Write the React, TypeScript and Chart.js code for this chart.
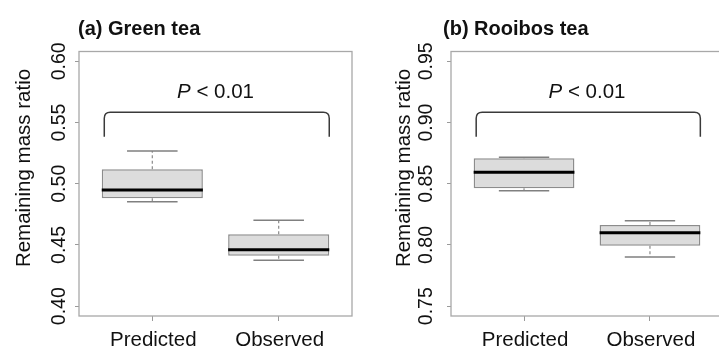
import React, { useEffect, useRef } from "react";
import { Chart, registerables } from "chart.js";

Chart.register(...registerables);

// ---------- data ----------
const categories = ["Predicted", "Observed"];
const xPositions = [1, 2];
const yAxisTitle = "Remaining mass ratio";
const pItalic = "P";
const pRest = " < 0.01";

// (a) Green tea
const greenTitle = "(a) Green tea";
const greenLow = [0.4853, 0.4375];
const greenQ1 = [0.4881, 0.4412];
const greenMedian = [0.4949, 0.4461];
const greenQ3 = [0.5118, 0.4587];
const greenHigh = [0.5267, 0.4701];
const greenTicks = [0.4, 0.45, 0.5, 0.55, 0.6];
const greenBracket = [0.5384, 0.5583]; // [leg end, top bar]
const greenPText = 0.5703;

// (b) Rooibos tea
const rooibosTitle = "(b) Rooibos tea";
const rooibosLow = [0.8443, 0.7902];
const rooibosQ1 = [0.8463, 0.7994];
const rooibosMedian = [0.8593, 0.81];
const rooibosQ3 = [0.8708, 0.8163];
const rooibosHigh = [0.8716, 0.8198];
const rooibosTicks = [0.75, 0.8, 0.85, 0.9, 0.95];
const rooibosBracket = [0.8884, 0.9083];
const rooibosPText = 0.9203;

const bracketX = [0.62, 2.4];

const FONT = "'Liberation Sans', Arial, Helvetica, sans-serif";

type PanelProps = {
  title: string;
  low: number[];
  q1: number[];
  median: number[];
  q3: number[];
  high: number[];
  ticks: number[];
  bracket: number[];
  pText: number;
  // layout only
  canvasWidth: number;
  axisWidth: number;
  titleX: number;
  yTitleX: number;
  tickLabelX: number;
  left: number;
};

function BoxPanel(props: PanelProps) {
  const ref = useRef<HTMLCanvasElement | null>(null);

  useEffect(() => {
    const canvas = ref.current;
    if (!canvas) return;
    const { low, q1, median, q3, high, ticks, bracket, pText, title } = props;
    const tSpan = ticks[ticks.length - 1] - ticks[0];
    const yMin = ticks[0] - 0.04 * tSpan;
    const yMax = ticks[ticks.length - 1] + 0.04 * tSpan;
    const xSpan = xPositions[xPositions.length - 1] - xPositions[0] + 1;
    const xMin = xPositions[0] - 0.5 - 0.04 * xSpan;
    const xMax = xPositions[xPositions.length - 1] + 0.5 + 0.04 * xSpan;

    const extras = {
      id: "boxExtras",
      afterDatasetsDraw(chart: any) {
        const { ctx, chartArea: a } = chart;
        const xs = chart.scales.x;
        const ys = chart.scales.y;
        ctx.save();
        // whiskers, caps, medians
        xPositions.forEach((xv, i) => {
          const cx = xs.getPixelForValue(xv);
          const halfBox = xs.getPixelForValue(xv + 0.4) - cx;
          const halfCap = xs.getPixelForValue(xv + 0.2) - cx;
          ctx.strokeStyle = "#8a8a8a";
          ctx.lineWidth = 1.2;
          ctx.setLineDash([3, 2.5]);
          ctx.beginPath();
          ctx.moveTo(cx, ys.getPixelForValue(q3[i]));
          ctx.lineTo(cx, ys.getPixelForValue(high[i]));
          ctx.moveTo(cx, ys.getPixelForValue(q1[i]));
          ctx.lineTo(cx, ys.getPixelForValue(low[i]));
          ctx.stroke();
          ctx.setLineDash([]);
          ctx.lineWidth = 1.5;
          ctx.strokeStyle = "#808080";
          ctx.beginPath();
          ctx.moveTo(cx - halfCap, ys.getPixelForValue(high[i]));
          ctx.lineTo(cx + halfCap, ys.getPixelForValue(high[i]));
          ctx.moveTo(cx - halfCap, ys.getPixelForValue(low[i]));
          ctx.lineTo(cx + halfCap, ys.getPixelForValue(low[i]));
          ctx.stroke();
          ctx.strokeStyle = "#000000";
          ctx.lineWidth = 3;
          ctx.beginPath();
          ctx.moveTo(cx - halfBox, ys.getPixelForValue(median[i]));
          ctx.lineTo(cx + halfBox, ys.getPixelForValue(median[i]));
          ctx.stroke();
        });
        // bracket
        const bx0 = xs.getPixelForValue(bracketX[0]);
        const bx1 = xs.getPixelForValue(bracketX[1]);
        const byEnd = ys.getPixelForValue(bracket[0]);
        const byTop = ys.getPixelForValue(bracket[1]);
        const r = 6;
        ctx.strokeStyle = "#3a3a3a";
        ctx.lineWidth = 1.5;
        ctx.beginPath();
        ctx.moveTo(bx0, byEnd);
        ctx.lineTo(bx0, byTop + r);
        ctx.quadraticCurveTo(bx0, byTop, bx0 + r, byTop);
        ctx.lineTo(bx1 - r, byTop);
        ctx.quadraticCurveTo(bx1, byTop, bx1, byTop + r);
        ctx.lineTo(bx1, byEnd);
        ctx.stroke();
        // frame
        ctx.strokeStyle = "#a8a8a8";
        ctx.lineWidth = 1.3;
        ctx.strokeRect(a.left, a.top, a.right - a.left, a.bottom - a.top);
        ctx.restore();
      },
      afterDraw(chart: any) {
        const { ctx, chartArea: a } = chart;
        const xs = chart.scales.x;
        const ys = chart.scales.y;
        ctx.save();
        ctx.fillStyle = "#111111";
        // panel title
        ctx.font = `bold 20px ${FONT}`;
        ctx.textAlign = "left";
        ctx.textBaseline = "alphabetic";
        ctx.fillText(title, props.titleX, 35);
        // P < 0.01
        const pcx = xs.getPixelForValue((xPositions[0] + xPositions[1]) / 2);
        const py = ys.getPixelForValue(pText);
        ctx.font = `italic 20.5px ${FONT}`;
        const w1 = ctx.measureText(pItalic).width;
        ctx.font = `20.5px ${FONT}`;
        const w2 = ctx.measureText(pRest).width;
        const start = pcx - (w1 + w2) / 2;
        ctx.font = `italic 20.5px ${FONT}`;
        ctx.fillText(pItalic, start, py);
        ctx.font = `20.5px ${FONT}`;
        ctx.fillText(pRest, start + w1, py);
        // x tick labels
        ctx.textAlign = "center";
        ctx.font = `20.5px ${FONT}`;
        xs.ticks.forEach((t: any, i: number) => {
          ctx.fillText(categories[i], xs.getPixelForValue(t.value) + 1, 346);
        });
        // y tick labels (rotated, parallel to axis)
        ctx.font = `19.5px ${FONT}`;
        ys.ticks.forEach((t: any) => {
          ctx.save();
          ctx.translate(props.tickLabelX, ys.getPixelForValue(t.value));
          ctx.rotate(-Math.PI / 2);
          ctx.textAlign = "center";
          ctx.fillText(Number(t.value).toFixed(2), 0, 0);
          ctx.restore();
        });
        // y axis title
        ctx.font = `20.5px ${FONT}`;
        ctx.translate(props.yTitleX, 168);
        ctx.rotate(-Math.PI / 2);
        ctx.textAlign = "center";
        ctx.fillText(yAxisTitle, 0, 0);
        ctx.restore();
      },
    };

    const chart = new Chart(canvas, {
      type: "bar",
      data: {
        datasets: [
          {
            data: xPositions.map((x, i) => ({ x, y: [q1[i], q3[i]] })) as any,
            backgroundColor: "#dcdcdc",
            borderColor: "#8c8c8c",
            borderWidth: 1.5,
            borderSkipped: false,
            barPercentage: 0.8,
            categoryPercentage: 1,
          },
        ],
      },
      options: {
        responsive: false,
        animation: false,
        layout: { padding: { left: 0, right: 8, top: 51.5, bottom: 0 } },
        plugins: {
          legend: { display: false },
          tooltip: { enabled: false },
          title: { display: false },
        },
        scales: {
          x: {
            type: "linear",
            min: xMin,
            max: xMax,
            offset: false,
            afterBuildTicks: (s: any) => {
              s.ticks = xPositions.map((v) => ({ value: v }));
            },
            afterFit: (s: any) => {
              s.height = 31;
            },
            ticks: { display: false },
            grid: {
              drawOnChartArea: false,
              drawTicks: true,
              tickLength: 5,
              color: "#9a9a9a",
              offset: false,
            },
            border: { display: false },
          },
          y: {
            type: "linear",
            min: yMin,
            max: yMax,
            afterBuildTicks: (s: any) => {
              s.ticks = ticks.map((v) => ({ value: v }));
            },
            afterFit: (s: any) => {
              s.width = props.axisWidth;
            },
            ticks: { display: false },
            grid: {
              drawOnChartArea: false,
              drawTicks: true,
              tickLength: 4,
              color: "#9a9a9a",
            },
            border: { display: false },
          },
        },
      } as any,
      plugins: [extras],
    });
    return () => chart.destroy();
  }, []);

  return (
    <canvas
      ref={ref}
      width={props.canvasWidth}
      height={347}
      style={{ position: "absolute", left: props.left, top: 0, width: props.canvasWidth, height: 347 }}
    />
  );
}

export default function App() {
  return (
    <div
      style={{
        position: "fixed",
        left: 0,
        top: 0,
        width: 719,
        height: 347,
        overflow: "hidden",
        background: "#ffffff",
      }}
    >
      <BoxPanel
        title={greenTitle}
        low={greenLow}
        q1={greenQ1}
        median={greenMedian}
        q3={greenQ3}
        high={greenHigh}
        ticks={greenTicks}
        bracket={greenBracket}
        pText={greenPText}
        canvasWidth={360}
        axisWidth={79}
        titleX={78}
        yTitleX={30}
        tickLabelX={65}
        left={0}
      />
      <BoxPanel
        title={rooibosTitle}
        low={rooibosLow}
        q1={rooibosQ1}
        median={rooibosMedian}
        q3={rooibosQ3}
        high={rooibosHigh}
        ticks={rooibosTicks}
        bracket={rooibosBracket}
        pText={rooibosPText}
        canvasWidth={371}
        axisWidth={91}
        titleX={83}
        yTitleX={50}
        tickLabelX={72}
        left={360}
      />
    </div>
  );
}
